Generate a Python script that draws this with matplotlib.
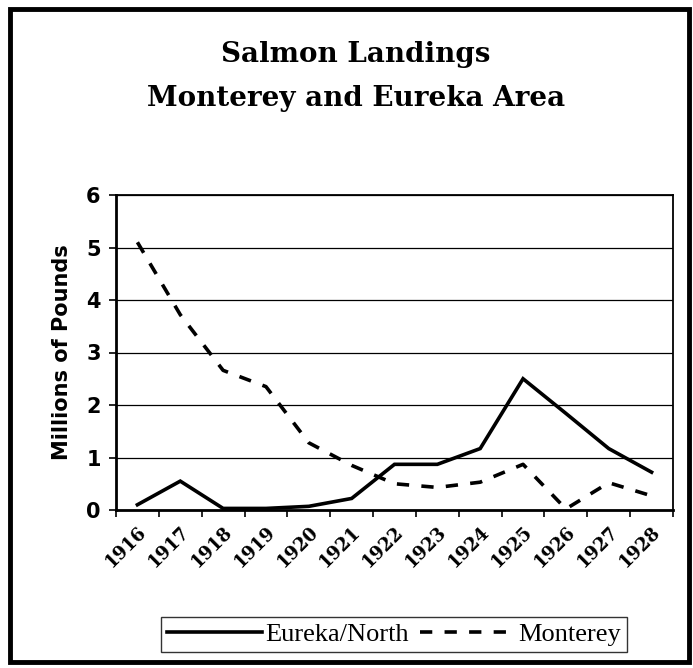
import numpy as np
import matplotlib
matplotlib.use("Agg")
import matplotlib.pyplot as plt
from matplotlib.patches import Rectangle

# Données (millions de livres)
annees = ["1916", "1917", "1918", "1919", "1920", "1921", "1922",
          "1923", "1924", "1925", "1926", "1927", "1928"]
eureka_north = [0.10, 0.55, 0.03, 0.03, 0.07, 0.22, 0.87,
                0.87, 1.17, 2.50, 1.84, 1.17, 0.72]
monterey = [5.10, 3.72, 2.66, 2.35, 1.28, 0.85, 0.50,
            0.43, 0.53, 0.87, 0.02, 0.52, 0.27]

W, H = 693, 668
fig = plt.figure(figsize=(W / 100, H / 100), dpi=100)

# Cadre extérieur
fig.patches.append(Rectangle((10 / W, 1 - 662 / H), 679 / W, 653 / H,
                             transform=fig.transFigure, fill=False,
                             edgecolor="black", linewidth=3.5))

# Titre
fig.text(356 / W, 1 - 55 / H, "Salmon Landings", ha="center", va="center",
         family="DejaVu Serif", fontweight="bold", fontsize=20)
fig.text(356 / W, 1 - 98 / H, "Monterey and Eureka Area", ha="center", va="center",
         family="DejaVu Serif", fontweight="bold", fontsize=20)

ax = fig.add_axes([116 / W, 1 - 510 / H, 557 / W, 315 / H])
x = np.arange(len(annees))

ax.plot(x, eureka_north, color="black", linewidth=2.6, label="Eureka/North",
        solid_joinstyle="miter")
ax.plot(x, monterey, color="black", linewidth=2.6, label="Monterey",
        dashes=(3.4, 3.4), dash_capstyle="butt")

ax.set_xlim(-0.5, len(annees) - 0.5)
ax.set_ylim(0, 6)
ax.set_yticks(range(0, 7))
ax.yaxis.grid(True, color="black", linewidth=0.9)
ax.set_axisbelow(True)

# graduations entre les catégories
ax.set_xticks(np.arange(-0.5, len(annees), 1.0))
ax.set_xticklabels([])
ax.set_xticks(x, minor=True)
ax.set_xticklabels(annees, minor=True, rotation=45, ha="right",
                   rotation_mode="anchor", family="DejaVu Serif",
                   fontweight="bold", fontsize=13)
ax.tick_params(axis="x", which="minor", length=0, pad=9)
ax.tick_params(axis="x", which="major", length=5, width=1.2, direction="out")
ax.tick_params(axis="y", length=5, width=1.2, direction="out", pad=6,
               labelsize=15)
for lab in ax.get_yticklabels():
    lab.set_fontweight("bold")

for s in ax.spines.values():
    s.set_linewidth(1.3)
ax.spines["left"].set_linewidth(2.0)
ax.spines["bottom"].set_linewidth(2.0)

ax.set_ylabel("Millions of Pounds", fontsize=15, fontweight="bold", labelpad=10)

leg = fig.legend(loc="center", bbox_to_anchor=(394 / W, 1 - 634.5 / H),
                 ncol=2, frameon=True, fancybox=False, edgecolor="black",
                 prop={"family": "Liberation Serif", "size": 19},
                 handlelength=3.6, handletextpad=0.15, columnspacing=0.4,
                 borderpad=0.2, borderaxespad=0)
leg.get_frame().set_linewidth(1.0)

fig.savefig("out.png", dpi=100)
